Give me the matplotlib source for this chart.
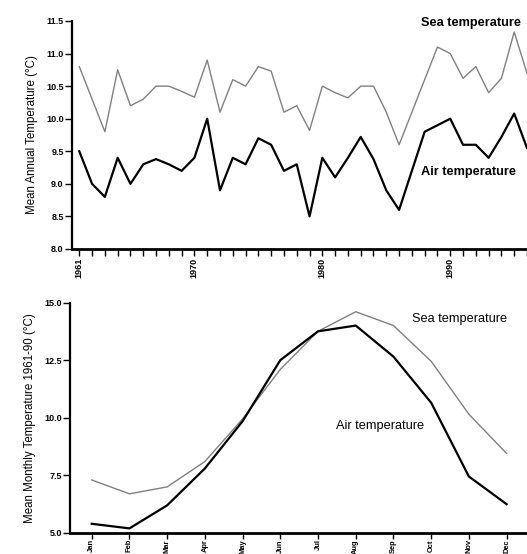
import numpy as np
import matplotlib
matplotlib.use("Agg")
import matplotlib.pyplot as plt

plt.rcParams['font.family'] = ['Liberation Sans', 'DejaVu Sans']

# annual means 1961-1996
years = np.arange(1961, 1997)
sea_annual = [10.8, 10.3, 9.8, 10.75, 10.2, 10.3, 10.5, 10.5, 10.42, 10.33,
              10.9, 10.1, 10.6, 10.5, 10.8, 10.73, 10.1, 10.2, 9.82, 10.5,
              10.4, 10.32, 10.5, 10.5, 10.1, 9.6, 10.1, 10.6, 11.1, 11.0,
              10.62, 10.8, 10.4, 10.62, 11.33, 10.7]
air_annual = [9.5, 9.0, 8.8, 9.4, 9.0, 9.3, 9.38, 9.3, 9.2, 9.4,
              10.0, 8.9, 9.4, 9.3, 9.7, 9.6, 9.2, 9.3, 8.5, 9.4,
              9.1, 9.4, 9.72, 9.38, 8.9, 8.6, 9.2, 9.8, 9.9, 10.0,
              9.6, 9.6, 9.4, 9.72, 10.08, 9.55]
year_ticks = [1961, 1970, 1980, 1990]

# monthly means 1961-90
months = np.arange(1, 13)
month_labels = ['Jan', 'Feb', 'Mar', 'Apr', 'May', 'Jun',
                'Jul', 'Aug', 'Sep', 'Oct', 'Nov', 'Dec']
sea_monthly = [7.3, 6.7, 7.0, 8.1, 9.95, 12.1, 13.75, 14.6, 14.0, 12.45, 10.15, 8.45]
air_monthly = [5.4, 5.2, 6.2, 7.8, 9.85, 12.5, 13.75, 14.0, 12.65, 10.65, 7.45, 6.25]

fig = plt.figure(figsize=(5.27, 5.54), dpi=100)

sea_kw = dict(color='#808080', lw=1.0)
air_kw = dict(color='black', lw=1.6)


def style(ax):
    for s in ['top', 'right']:
        ax.spines[s].set_visible(False)
    ax.spines['left'].set_linewidth(1.6)
    ax.spines['bottom'].set_linewidth(2.0)
    ax.tick_params(axis='y', direction='out', length=5, width=1, labelsize=6.5, pad=1)
    ax.tick_params(axis='x', direction='out', length=5, width=1, labelsize=6.5, pad=1.5)
    for t in ax.get_yticklabels() + ax.get_xticklabels():
        t.set_fontweight('bold')


# top panel
ax1 = fig.add_axes([72 / 527, 1 - 249 / 554, 1 - 72 / 527, 228 / 554])
ax1.plot(years, sea_annual, **sea_kw)
ax1.plot(years, air_annual, **air_kw)
ax1.set_xlim(1960.43, 1995.8)
ax1.set_ylim(8.0, 11.5)
ax1.set_yticks(np.arange(8.0, 11.6, 0.5))
ax1.set_yticklabels(['%.1f' % v for v in np.arange(8.0, 11.6, 0.5)])
ax1.set_xticks(year_ticks)
ax1.set_xticklabels([str(y) for y in year_ticks], rotation=90)
ax1.set_xticks(years, minor=True)
ax1.tick_params(axis='x', which='minor', direction='out', length=5, width=1)
style(ax1)
ax1.set_ylabel('Mean Annual Temperature (°C)', fontsize=8.3, labelpad=6)
ax1.text(1987.75, 11.47, 'Sea temperature', fontsize=9.2, fontweight='bold', va='center')
ax1.text(1987.75, 9.18, 'Air temperature', fontsize=9.2, fontweight='bold', va='center')

# bottom panel
ax2 = fig.add_axes([70 / 527, 1 - 533 / 554, 1 - 70 / 527, 230.5 / 554])
ax2.plot(months, sea_monthly, **sea_kw)
ax2.plot(months, air_monthly, **air_kw)
ax2.set_xlim(0.424, 12.54)
ax2.set_ylim(5.0, 15.0)
ax2.set_yticks([5.0, 7.5, 10.0, 12.5, 15.0])
ax2.set_yticklabels(['5.0', '7.5', '10.0', '12.5', '15.0'])
ax2.set_xticks(months)
ax2.set_xticklabels(month_labels, rotation=90)
style(ax2)
ax2.tick_params(axis='x', length=4, pad=0.5, labelsize=5.4)
ax2.set_ylabel('Mean Monthly Temperature 1961-90 (°C)', fontsize=8.3, labelpad=6)
ax2.text(9.5, 14.29, 'Sea temperature', fontsize=9.2, va='center')
ax2.text(7.47, 9.66, 'Air temperature', fontsize=9.2, va='center')

fig.savefig('out.png', dpi=100)
